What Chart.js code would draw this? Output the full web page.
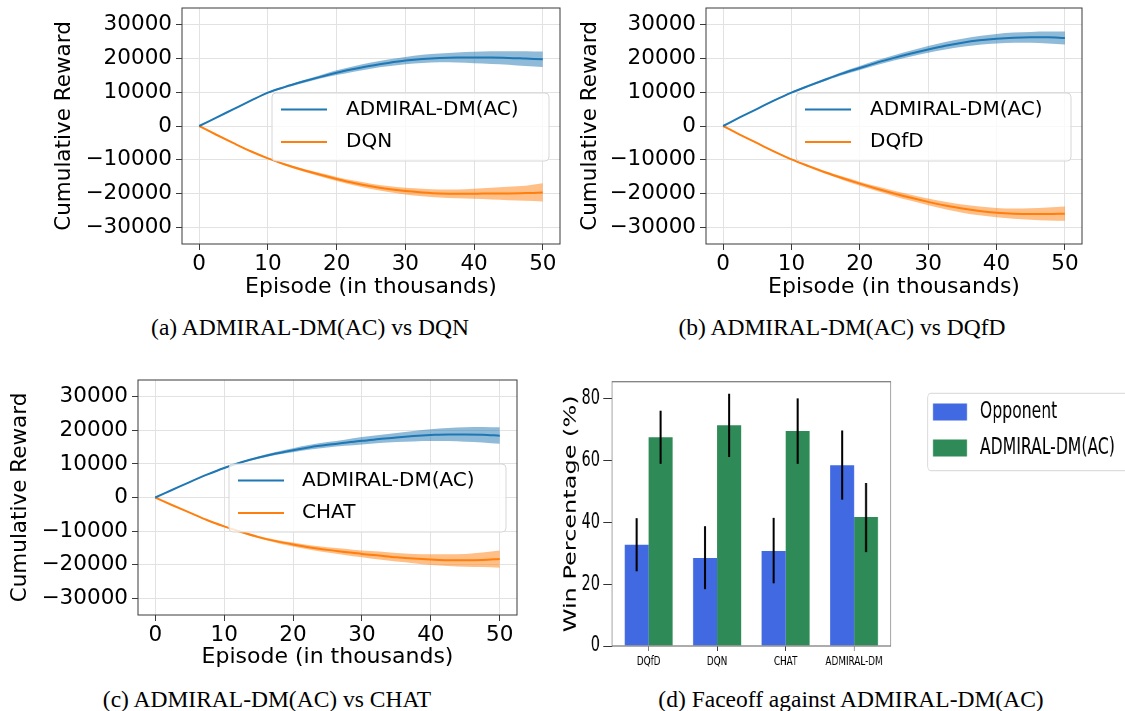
<!DOCTYPE html>
<html>
<head>
<meta charset="utf-8">
<script src="https://cdn.jsdelivr.net/npm/chart.js@4.4.0/dist/chart.umd.min.js"></script>
<style>
  html, body { margin: 0; padding: 0; background: #fff; }
  body { width: 1125px; height: 711px; position: relative; overflow: hidden; }
  canvas { position: absolute; }
  .cap {
    position: absolute; white-space: nowrap; color: #000;
    font-family: 'Liberation Serif', 'Times New Roman', serif;
    font-size: 23.5px; line-height: 1; transform: translateX(-50%);
  }
</style>
</head>
<body>
<canvas id="chartA" width="575" height="300" style="left:0;top:0"></canvas>
<canvas id="chartB" width="550" height="300" style="left:575px;top:0"></canvas>
<canvas id="chartC" width="560" height="300" style="left:0;top:370px"></canvas>
<canvas id="chartD" width="831" height="300" style="left:560px;top:370px;transform:scaleX(0.68);transform-origin:0 0"></canvas>

<div class="cap" style="left:310px;top:316px">(a) ADMIRAL-DM(AC) vs DQN</div>
<div class="cap" style="left:842px;top:316px">(b) ADMIRAL-DM(AC) vs DQfD</div>
<div class="cap" style="left:267px;top:688px">(c) ADMIRAL-DM(AC) vs CHAT</div>
<div class="cap" style="left:851px;top:688px">(d) Faceoff against ADMIRAL-DM(AC)</div>

<script>
// episodes, in thousands
const episodes = [0, 2.5, 5, 7.5, 10, 12.5, 15, 17.5, 20, 22.5, 25, 27.5, 30, 32.5, 35, 37.5, 40, 42.5, 45, 47.5, 50];

// tick values
const episodeTicks = [0, 10, 20, 30, 40, 50];
const rewardTicks = [-30000, -20000, -10000, 0, 10000, 20000, 30000];
const winTicks = [0, 20, 40, 60, 80];

const admiralName = 'ADMIRAL-DM(AC)';

// (a) vs DQN
const aAdmiralMean = [0, 2500, 5000, 7500, 9900, 11600, 13100, 14500, 15800, 16900, 17900, 18700, 19400, 19900, 20200, 20300, 20300, 20300, 20200, 20000, 19800];
const aAdmiralLow  = [0, 2450, 4900, 7350, 9700, 11300, 12700, 14000, 15100, 16100, 17000, 17700, 18300, 18700, 18900, 18800, 18600, 18400, 18200, 17800, 17500];
const aAdmiralHigh = [0, 2550, 5100, 7650, 10100, 11900, 13500, 15000, 16500, 17700, 18800, 19700, 20500, 21100, 21500, 21800, 22000, 22200, 22200, 22200, 22100];
const aDqnMean = [0, -2600, -5100, -7500, -9600, -11400, -13000, -14400, -15700, -16900, -17900, -18700, -19300, -19700, -20000, -20100, -20100, -20000, -20000, -19900, -19700];
const aDqnLow  = [0, -2650, -5200, -7650, -9800, -11700, -13400, -14900, -16300, -17600, -18700, -19600, -20300, -20800, -21200, -21400, -21600, -21800, -22000, -22200, -22400];
const aDqnHigh = [0, -2550, -5000, -7350, -9400, -11100, -12600, -13900, -15100, -16200, -17100, -17800, -18300, -18600, -18800, -18800, -18600, -18300, -18000, -17700, -17000];

// (b) vs DQfD
const bAdmiralMean = [0, 2600, 5100, 7600, 9900, 11900, 13800, 15600, 17200, 18800, 20200, 21500, 22700, 23800, 24700, 25400, 25900, 26200, 26300, 26300, 26100];
const bAdmiralLow  = [0, 2550, 5000, 7450, 9700, 11600, 13400, 15100, 16600, 18100, 19400, 20600, 21700, 22700, 23500, 24100, 24500, 24700, 24700, 24500, 24200];
const bAdmiralHigh = [0, 2650, 5200, 7750, 10100, 12200, 14200, 16100, 17800, 19500, 21000, 22400, 23700, 24900, 25900, 26700, 27300, 27700, 27900, 28000, 28000];
const bDqfdMean = [0, -2600, -5100, -7600, -9900, -11900, -13800, -15500, -17100, -18600, -20000, -21300, -22500, -23600, -24500, -25200, -25700, -26000, -26100, -26100, -26000];
const bDqfdLow  = [0, -2650, -5200, -7750, -10100, -12200, -14200, -16000, -17700, -19300, -20800, -22200, -23500, -24700, -25700, -26500, -27100, -27500, -27800, -28000, -28100];
const bDqfdHigh = [0, -2550, -5000, -7450, -9700, -11600, -13400, -15000, -16500, -17900, -19200, -20400, -21500, -22500, -23300, -23900, -24300, -24500, -24400, -24200, -23900];

// (c) vs CHAT
const cAdmiralMean = [0, 2300, 4600, 6800, 8800, 10500, 11900, 13100, 14100, 15000, 15700, 16300, 16900, 17400, 17900, 18300, 18600, 18800, 18800, 18700, 18400];
const cAdmiralLow  = [0, 2250, 4500, 6650, 8600, 10250, 11550, 12650, 13500, 14300, 14900, 15400, 15800, 16200, 16500, 16700, 16800, 16800, 16600, 16400, 16000];
const cAdmiralHigh = [0, 2350, 4700, 6950, 9000, 10750, 12250, 13550, 14700, 15700, 16500, 17200, 18000, 18600, 19200, 19800, 20300, 20700, 20900, 21000, 20900];
const cChatMean = [0, -2300, -4500, -6700, -8600, -10300, -11800, -13000, -14000, -14900, -15600, -16200, -16800, -17300, -17800, -18200, -18500, -18700, -18700, -18600, -18300];
const cChatLow  = [0, -2350, -4600, -6850, -8800, -10550, -12150, -13450, -14600, -15600, -16400, -17100, -17800, -18500, -19100, -19600, -20100, -20400, -20600, -20700, -20900];
const cChatHigh = [0, -2250, -4400, -6550, -8400, -10050, -11450, -12550, -13400, -14200, -14800, -15300, -15800, -16100, -16500, -16800, -16900, -16900, -16800, -16400, -15800];

// (d) faceoff win percentages
const faceoffCategories = ['DQfD', 'DQN', 'CHAT', 'ADMIRAL-DM'];
const opponentWin     = [32.8, 28.5, 30.8, 58.5];
const opponentWinLow  = [24.2, 18.4, 20.3, 47.4];
const opponentWinHigh = [41.4, 38.8, 41.5, 69.8];
const admiralWin      = [67.6, 71.5, 69.6, 41.8];
const admiralWinLow   = [59.0, 61.2, 59.0, 30.4];
const admiralWinHigh  = [76.2, 81.7, 80.2, 52.8];

const FONT = 'DejaVu Sans';
const BLUE = '#1f77b4', ORANGE = '#ff7f0e';
const BLUE_BAND = 'rgba(31,119,180,0.5)', ORANGE_BAND = 'rgba(255,127,14,0.5)';

function pts(ys) {
  return episodes.map((x, i) => ({ x: x, y: ys[i] }));
}

function fmtNum(v) {
  return v < 0 ? '\u2212' + Math.abs(v) : String(v);
}

function fixedTicks(values) {
  return s => { s.ticks = values.map(v => ({ value: v })); };
}

const framePlugin = {
  id: 'frame',
  afterDraw(chart, args, opts) {
    const a = chart.chartArea, ctx = chart.ctx;
    ctx.save();
    ctx.strokeStyle = opts.color;
    ctx.lineWidth = opts.width;
    ctx.strokeRect(a.left, a.top, a.right - a.left, a.bottom - a.top);
    ctx.restore();
  }
};

// legend box drawn inside the canvas, matplotlib style
function boxLegend(cfg) {
  return {
    id: 'boxLegend',
    afterDatasetsDraw(chart) {
      const ctx = chart.ctx;
      ctx.save();
      ctx.beginPath();
      ctx.roundRect(cfg.x, cfg.y, cfg.w, cfg.h, 4);
      ctx.fillStyle = 'rgba(255,255,255,0.8)';
      ctx.fill();
      ctx.strokeStyle = '#d6d6d6';
      ctx.lineWidth = 1;
      ctx.stroke();
      cfg.items.forEach((it, i) => {
        const y = cfg.rows[i];
        if (cfg.patch) {
          ctx.fillStyle = it.color;
          ctx.fillRect(cfg.s0, y - cfg.patch / 2, cfg.s1 - cfg.s0, cfg.patch);
        } else {
          ctx.strokeStyle = it.color;
          ctx.lineWidth = 2;
          ctx.beginPath();
          ctx.moveTo(cfg.s0, y);
          ctx.lineTo(cfg.s1, y);
          ctx.stroke();
        }
        ctx.fillStyle = '#000';
        ctx.font = cfg.font;
        ctx.textBaseline = 'middle';
        ctx.textAlign = 'left';
        ctx.fillText(it.text, cfg.textX, y);
      });
      ctx.restore();
    }
  };
}

function cumulativeChart(id, L, s1, s2, legendCfg) {
  const xHeight = L.h - L.bottom;
  const titleLH = 21.5 * 1.2;
  const xTitleLH = 22 * 1.2;
  const line = (label, data, color) => ({
    label, data: pts(data), borderColor: color, borderWidth: 2, pointRadius: 0,
    fill: false, cubicInterpolationMode: 'monotone'
  });
  const bound = (data, band) => ({
    data: pts(data), borderColor: 'transparent', borderWidth: 0, pointRadius: 0,
    backgroundColor: band || 'transparent', fill: band ? '-1' : false,
    cubicInterpolationMode: 'monotone'
  });
  return new Chart(document.getElementById(id), {
    type: 'line',
    data: {
      datasets: [
        line(s1.name, s1.mean, BLUE),
        line(s2.name, s2.mean, ORANGE),
        bound(s1.low), bound(s1.high, BLUE_BAND),
        bound(s2.low), bound(s2.high, ORANGE_BAND)
      ]
    },
    options: {
      responsive: false,
      animation: false,
      devicePixelRatio: 1,
      layout: { padding: { left: 0, top: L.top, right: L.w - L.right, bottom: 0 } },
      plugins: {
        legend: { display: false },
        tooltip: { enabled: false },
        frame: { color: '#3a3a3a', width: 1 }
      },
      scales: {
        x: {
          type: 'linear', min: -2.5, max: 52.5,
          afterBuildTicks: fixedTicks(episodeTicks),
          afterFit: s => { s.height = xHeight; s.paddingLeft = 0; s.paddingRight = 0; },
          ticks: { maxRotation: 0, autoSkip: false, color: '#000',
                   padding: 4, font: { family: FONT, size: 21.5, lineHeight: 1 } },
          grid: { color: '#e2e2e2', lineWidth: 1, tickColor: '#3a3a3a', tickLength: 6 },
          border: { display: false },
          title: { display: true, text: 'Episode (in thousands)', color: '#000',
                   font: { family: FONT, size: 22, lineHeight: 1.2 },
                   padding: { top: 0, bottom: Math.max(0, L.h - L.xTitleY - xTitleLH / 2) } }
        },
        y: {
          min: -35000, max: 35000,
          afterBuildTicks: fixedTicks(rewardTicks),
          afterFit: s => { s.width = L.left; s.paddingTop = 0; s.paddingBottom = 0; },
          ticks: { color: '#000', padding: 4, autoSkip: false,
                   font: { family: FONT, size: 21.5 }, callback: v => fmtNum(v) },
          grid: { color: '#e2e2e2', lineWidth: 1, tickColor: '#3a3a3a', tickLength: 6 },
          border: { display: false },
          title: { display: true, text: 'Cumulative Reward', color: '#000',
                   font: { family: FONT, size: 21.5, lineHeight: 1.2 },
                   padding: { top: L.yTitleX - titleLH / 2, bottom: 0 } }
        }
      }
    },
    plugins: [framePlugin, boxLegend(Object.assign({
      items: [{ text: s1.name, color: BLUE }, { text: s2.name, color: ORANGE }],
      font: '20px "' + FONT + '"'
    }, legendCfg))]
  });
}

cumulativeChart('chartA',
  { w: 575, h: 300, left: 182, top: 8, right: 560, bottom: 244, yTitleX: 64, xTitleY: 287 },
  { name: admiralName, mean: aAdmiralMean, low: aAdmiralLow, high: aAdmiralHigh },
  { name: 'DQN', mean: aDqnMean, low: aDqnLow, high: aDqnHigh },
  { x: 272, y: 93, w: 277, h: 68, rows: [109.5, 142], s0: 281, s1: 327, textX: 346 });

cumulativeChart('chartB',
  { w: 550, h: 300, left: 131, top: 8, right: 507, bottom: 244, yTitleX: 15, xTitleY: 287 },
  { name: admiralName, mean: bAdmiralMean, low: bAdmiralLow, high: bAdmiralHigh },
  { name: 'DQfD', mean: bDqfdMean, low: bDqfdLow, high: bDqfdHigh },
  { x: 221, y: 93, w: 275, h: 68, rows: [109.5, 142], s0: 230, s1: 276, textX: 295 });

cumulativeChart('chartC',
  { w: 560, h: 300, left: 138, top: 10, right: 517, bottom: 245, yTitleX: 20, xTitleY: 287 },
  { name: admiralName, mean: cAdmiralMean, low: cAdmiralLow, high: cAdmiralHigh },
  { name: 'CHAT', mean: cChatMean, low: cChatLow, high: cChatHigh },
  { x: 229, y: 94, w: 277, h: 68, rows: [110.5, 143], s0: 238, s1: 284, textX: 302 });

// (d) bar chart: drawn wide then squeezed horizontally by the canvas transform
const errorRanges = [[opponentWinLow, opponentWinHigh], [admiralWinLow, admiralWinHigh]];
const errorBarPlugin = {
  id: 'errorBars',
  afterDatasetsDraw(chart) {
    const ctx = chart.ctx, yScale = chart.scales.y;
    ctx.save();
    ctx.strokeStyle = '#000';
    ctx.lineWidth = 3;
    errorRanges.forEach(([lo, hi], di) => {
      chart.getDatasetMeta(di).data.forEach((bar, j) => {
        ctx.beginPath();
        ctx.moveTo(bar.x, yScale.getPixelForValue(lo[j]));
        ctx.lineTo(bar.x, yScale.getPixelForValue(hi[j]));
        ctx.stroke();
      });
    });
    ctx.restore();
  }
};

new Chart(document.getElementById('chartD'), {
  type: 'bar',
  data: {
    datasets: [
      { label: 'Opponent', data: faceoffCategories.map((c, i) => ({ x: i, y: opponentWin[i] })),
        backgroundColor: '#4169e1', categoryPercentage: 0.7, barPercentage: 1 },
      { label: admiralName, data: faceoffCategories.map((c, i) => ({ x: i, y: admiralWin[i] })),
        backgroundColor: '#2e8b57', categoryPercentage: 0.7, barPercentage: 1 }
    ]
  },
  options: {
    responsive: false,
    animation: false,
    devicePixelRatio: 1,
    layout: { padding: { left: 0, top: 11.7, right: 344.7, bottom: 0 } },
    plugins: {
      legend: { display: false },
      tooltip: { enabled: false },
      frame: { color: '#808080', width: 1.3 }
    },
    scales: {
      x: {
        type: 'linear', offset: false, min: -0.535, max: 3.535,
        afterBuildTicks: fixedTicks([0, 1, 2, 3]),
        afterFit: s => { s.height = 24; s.paddingLeft = 0; s.paddingRight = 0; },
        ticks: { autoSkip: false, maxRotation: 0, color: '#000',
                 padding: 3, font: { family: FONT, size: 13, lineHeight: 1.2 },
                 callback: v => faceoffCategories[v] || '' },
        grid: { drawOnChartArea: false, offset: false, tickColor: '#333', tickLength: 5 },
        border: { display: false }
      },
      y: {
        min: 0, max: 85.6,
        afterBuildTicks: fixedTicks(winTicks),
        afterFit: s => { s.width = 76.5; s.paddingTop = 0; s.paddingBottom = 0; },
        ticks: { color: '#000', padding: 5, font: { family: FONT, size: 21 } },
        grid: { drawOnChartArea: false, tickColor: '#333', tickLength: 13 },
        border: { display: false },
        title: { display: true, text: 'Win Percentage (%)', color: '#000',
                 font: { family: FONT, size: 24, lineHeight: 1.2 },
                 padding: { top: 2, bottom: 0 } }
      }
    }
  },
  plugins: [framePlugin, errorBarPlugin, boxLegend({
    x: 540.7, y: 23.3, w: 320, h: 77.4, rows: [42, 78], s0: 548.5, s1: 598.5, textX: 617.6, patch: 17,
    items: [{ text: 'Opponent', color: '#4169e1' }, { text: admiralName, color: '#2e8b57' }],
    font: '23px "' + FONT + '"'
  })]
});
</script>
</body>
</html>
